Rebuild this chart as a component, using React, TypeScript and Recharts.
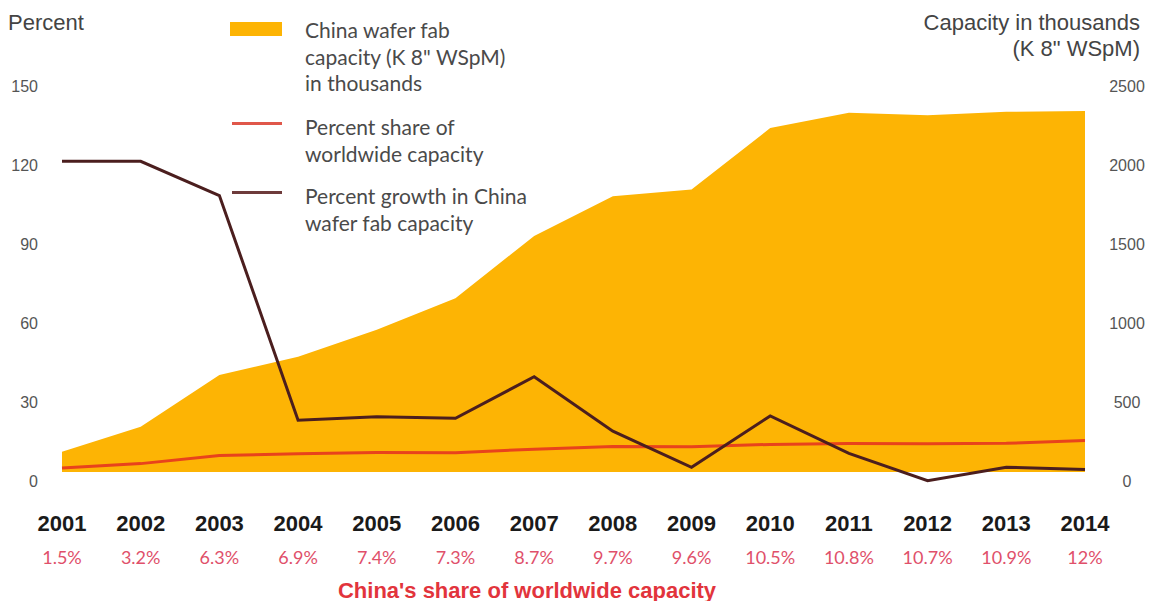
import { Area, ComposedChart, Legend, Line, XAxis, YAxis } from "recharts";

const years = [2001, 2002, 2003, 2004, 2005, 2006, 2007, 2008, 2009, 2010, 2011, 2012, 2013, 2014];
// China wafer fab capacity, K 8" WSpM (thousands)
const capacity = [128, 287, 614, 730, 900, 1100, 1494, 1745, 1788, 2177, 2273, 2258, 2280, 2285];
// China's share of worldwide capacity, %
const shareOfWorld = [1.5, 3.2, 6.3, 6.9, 7.4, 7.3, 8.7, 9.7, 9.6, 10.5, 10.8, 10.7, 10.9, 12];
// percent growth in China wafer fab capacity
const growth = [118, 118, 105, 19.7, 21, 20.4, 36.2, 15.5, 1.8, 21.3, 7.1, -3.3, 1.8, 1.0];

const percentTicks = [0, 30, 60, 90, 120, 150];
const capacityTicks = [0, 500, 1000, 1500, 2000, 2500];

const data = years.map((year, i) => ({
  year,
  capacity: capacity[i],
  share: shareOfWorld[i],
  growth: growth[i],
}));

const AREA = "#FDB404";
const RED = "#E8431C";
const BROWN = "#4B1E1E";
const LABEL_SHIFT = 9;

function LeftTick({ x, y, payload }: any) {
  return (
    <text x={x} y={y + LABEL_SHIFT} textAnchor="end" dominantBaseline="central" fontSize={16} fill="#555" fontFamily="Liberation Sans, Arial, sans-serif">
      {payload.value}
    </text>
  );
}

function RightTick({ x, y, payload }: any) {
  return (
    <text x={x} y={y + LABEL_SHIFT} textAnchor="middle" dominantBaseline="central" fontSize={16} fill="#555" fontFamily="Liberation Sans, Arial, sans-serif">
      {payload.value}
    </text>
  );
}

function YearTick({ x, y, payload }: any) {
  const i = years.indexOf(payload.value);
  return (
    <g>
      <text x={x} y={y + 42} textAnchor="middle" dominantBaseline="central" fontSize={22} fontWeight="bold" fill="#1a1a1a" fontFamily="Liberation Sans, Arial, sans-serif">
        {payload.value}
      </text>
      <text x={x} y={y + 76} textAnchor="middle" dominantBaseline="central" fontSize={18} fill="#E0506A" fontFamily="Lato, sans-serif">
        {shareOfWorld[i]}%
      </text>
    </g>
  );
}

function ShareTitle({ viewBox }: any) {
  return (
    <text x={viewBox.x + 465} y={viewBox.y + 109} textAnchor="middle" dominantBaseline="central" fontSize={22} fontWeight="bold" fill="#E2343C" fontFamily="Liberation Sans, Arial, sans-serif">
      China's share of worldwide capacity
    </text>
  );
}

function LeftTitle({ viewBox }: any) {
  return (
    <text x={viewBox.x + 8} y={viewBox.y - 55} dominantBaseline="central" fontSize={22} fill="#444" fontFamily="Liberation Sans, Arial, sans-serif">
      Percent
    </text>
  );
}

function RightTitle({ viewBox }: any) {
  const right = viewBox.x + viewBox.width - 12;
  return (
    <text textAnchor="end" fontSize={22} fill="#444" fontFamily="Liberation Sans, Arial, sans-serif">
      <tspan x={right} y={viewBox.y - 55} dominantBaseline="central">Capacity in thousands</tspan>
      <tspan x={right} y={viewBox.y - 29} dominantBaseline="central">(K 8" WSpM)</tspan>
    </text>
  );
}

const legendText = ["China wafer fab|capacity (K 8\" WSpM)|in thousands", "Percent share of|worldwide capacity", "Percent growth in China|wafer fab capacity"];
const legendTops = [17, 114, 183];

function LegendContent({ payload }: any) {
  return (
    <div style={{ position: "relative", width: 560, height: 240, fontFamily: "Lato, sans-serif", fontSize: 21, color: "#4a4a4a" }}>
      {(payload || []).map((entry: any, i: number) => {
        const top = legendTops[i];
        const icon =
          i === 0 ? (
            <div style={{ position: "absolute", left: 230, top: top + 5, width: 52, height: 14, background: AREA }} />
          ) : (
            <div style={{ position: "absolute", left: 232, top: top + 8, width: 50, height: 3, background: i === 1 ? "#E0574A" : "#6E3B3B" }} />
          );
        return (
          <div key={entry.value}>
            {icon}
            <div style={{ position: "absolute", left: 305, top, lineHeight: "26.5px", whiteSpace: "nowrap" }}>
              {legendText[i].split("|").map((line) => (
                <div key={line}>{line}</div>
              ))}
            </div>
          </div>
        );
      })}
    </div>
  );
}

export default function App() {
  return (
    <div style={{ position: "absolute", left: 0, top: 0, width: 1152, height: 601, background: "#fff" }}>
      <ComposedChart width={1152} height={601} data={data} margin={{ top: 77, right: 0, bottom: 0, left: 0 }}>
        <XAxis
          dataKey="year"
          type="number"
          domain={[2001, 2014]}
          ticks={years}
          interval={0}
          height={120}
          tickLine={false}
          axisLine={false}
          tickSize={0}
          tickMargin={0}
          tick={<YearTick />}
          label={<ShareTitle />}
        />
        <YAxis
          yAxisId="pct"
          orientation="left"
          width={62}
          domain={[-3.4, 150]}
          ticks={percentTicks}
          tickLine={false}
          axisLine={false}
          tickSize={0}
          tickMargin={24}
          tick={<LeftTick />}
          label={<LeftTitle />}
        />
        <YAxis
          yAxisId="cap"
          orientation="right"
          width={67}
          domain={[-56.7, 2500]}
          ticks={capacityTicks}
          tickLine={false}
          axisLine={false}
          tickSize={0}
          tickMargin={42}
          tick={<RightTick />}
          label={<RightTitle />}
        />
        <Legend
          layout="horizontal"
          verticalAlign="middle"
          align="center"
          wrapperStyle={{ top: 0, left: 0, width: 560, height: 240 }}
          content={<LegendContent />}
        />
        <Area
          yAxisId="cap"
          dataKey="capacity"
          name="China wafer fab capacity"
          type="linear"
          stroke="none"
          fill={AREA}
          fillOpacity={1}
          baseValue={0}
          isAnimationActive={false}
        />
        <Line
          yAxisId="pct"
          dataKey="share"
          name="Percent share of worldwide capacity"
          type="linear"
          stroke={RED}
          strokeWidth={3}
          dot={false}
          isAnimationActive={false}
        />
        <Line
          yAxisId="pct"
          dataKey="growth"
          name="Percent growth in China wafer fab capacity"
          type="linear"
          stroke={BROWN}
          strokeWidth={3}
          dot={false}
          isAnimationActive={false}
        />
      </ComposedChart>
    </div>
  );
}
